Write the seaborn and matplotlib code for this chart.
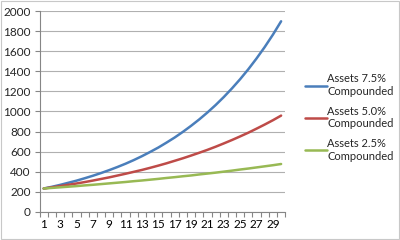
import matplotlib
matplotlib.use("Agg")
import matplotlib.pyplot as plt
import seaborn as sns
import pandas as pd
from matplotlib.patches import Rectangle
from matplotlib.ticker import MultipleLocator, FixedLocator

years = list(range(1, 31))
assets_75 = [233, 250, 269, 290, 311, 335, 360, 387, 416, 447, 480, 516, 555, 597, 641,
             690, 741, 797, 857, 921, 990, 1064, 1144, 1230, 1322, 1421, 1528, 1642, 1765, 1898]
assets_50 = [233, 245, 257, 270, 283, 297, 312, 328, 344, 362, 380, 399, 418, 439, 461,
             484, 509, 534, 561, 589, 618, 649, 682, 716, 752, 789, 829, 870, 913, 959]
assets_25 = [233, 239, 245, 251, 257, 264, 270, 277, 284, 291, 298, 306, 313, 321, 329,
             338, 346, 355, 363, 373, 382, 391, 401, 411, 422, 432, 443, 454, 465, 477]
series_names = ["Assets 7.5%\nCompounded", "Assets 5.0%\nCompounded", "Assets 2.5%\nCompounded"]
colors = ["#4A7EBB", "#BE4B48", "#98B954"]
y_ticks = list(range(0, 2001, 200))
x_labels = list(range(1, 30, 2))

df = pd.concat([
    pd.DataFrame({"Year": years, "Value": vals, "Series": name})
    for name, vals in zip(series_names, [assets_75, assets_50, assets_25])
])

sns.set_style("white")
plt.rcParams["font.family"] = ["Lato", "DejaVu Sans"]

fig = plt.figure(figsize=(4, 2.4), dpi=100)
ax = fig.add_axes([0.099, 0.117, 0.614, 0.837])
sns.lineplot(data=df, x="Year", y="Value", hue="Series", hue_order=series_names,
             palette=colors, linewidth=1.8, ax=ax)

ax.set_xlim(0.5, 30.5)
ax.set_ylim(0, 2000)
ax.yaxis.set_major_locator(FixedLocator(y_ticks))
ax.xaxis.set_major_locator(FixedLocator(x_labels))
ax.xaxis.set_minor_locator(MultipleLocator(1, offset=0.5))
ax.grid(axis="y", color="#b0b0b0", linewidth=0.8)
ax.set_axisbelow(True)
for s in ["top", "right"]:
    ax.spines[s].set_visible(False)
for s in ["left", "bottom"]:
    ax.spines[s].set_color("#868686")
    ax.spines[s].set_linewidth(0.8)
ax.tick_params(axis="x", which="major", length=0, pad=5, labelsize=8.5, colors="#000000")
ax.tick_params(axis="x", which="minor", length=3.5, width=0.8, color="#868686", bottom=True)
ax.tick_params(axis="y", which="major", length=3.5, width=0.8, color="#868686", pad=3,
               labelsize=8.5, left=True)
ax.set_xlabel("")
ax.set_ylabel("")

handles, labels = ax.get_legend_handles_labels()
ax.legend(handles, labels, loc="center left", bbox_to_anchor=(1.025, 0.47), frameon=False,
          fontsize=8, handlelength=2.0, handletextpad=0.05, labelspacing=0.75,
          borderaxespad=0.8)

fig.patches.append(Rectangle((0.002, 0.004), 0.995, 0.992, transform=fig.transFigure,
                             fill=False, edgecolor="#c8c8c8", linewidth=0.8))
fig.savefig("out.png", dpi=100)
